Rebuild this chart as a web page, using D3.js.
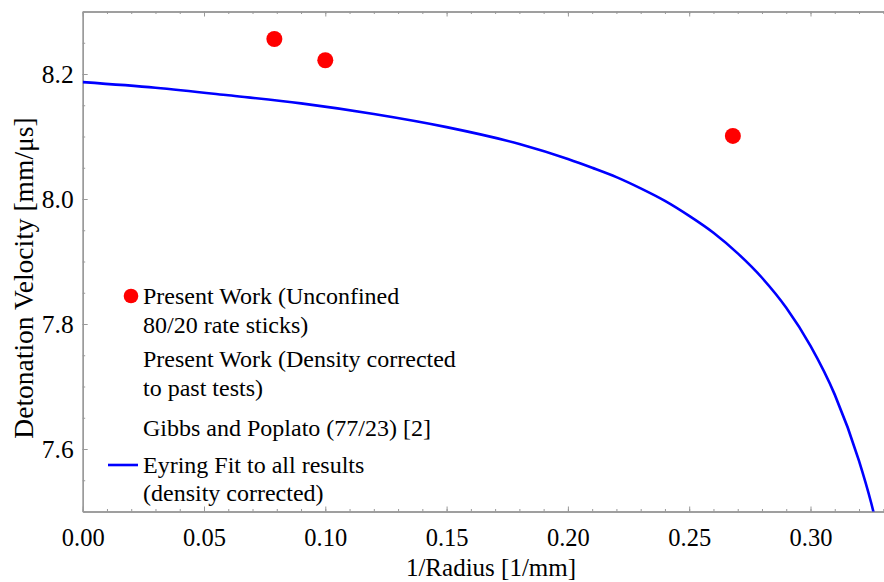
<!DOCTYPE html>
<html><head><meta charset="utf-8">
<script src="https://cdn.jsdelivr.net/npm/d3@7/dist/d3.min.js"></script>
<style>body{margin:0;background:#fff}svg{display:block}svg text{font-family:"Times New Roman",Times,"Liberation Serif",Tinos,"Noto Serif","DejaVu Serif",serif !important;fill:#000}</style>
</head><body><svg id="c" width="884" height="582"></svg>
<script>
// Data
const pointX = [0.079, 0.100, 0.268];
const pointY = [8.256, 8.222, 8.101];
const fitX = [0, 0.03, 0.06, 0.09, 0.12, 0.15, 0.18, 0.20, 0.21, 0.22, 0.23, 0.24, 0.25, 0.26, 0.27, 0.28, 0.29, 0.30, 0.31, 0.32, 0.325, 0.33];
const fitY = [8.187, 8.178, 8.166, 8.153, 8.136, 8.115, 8.088, 8.064, 8.050, 8.035, 8.017, 7.997, 7.973, 7.946, 7.913, 7.874, 7.826, 7.765, 7.687, 7.581, 7.514, 7.432];
const xTicks = [0.00, 0.05, 0.10, 0.15, 0.20, 0.25, 0.30];
const yTicks = [7.6, 7.8, 8.0, 8.2];
const legendLabels = [
  ["Present Work (Unconfined", "80/20 rate sticks)"],
  ["Present Work (Density corrected", "to past tests)"],
  ["Gibbs and Poplato (77/23) [2]"],
  ["Eyring Fit to all results", "(density corrected)"]
];
const xTitle = "1/Radius [1/mm]";
const yTitle = "Detonation Velocity [mm/\u03bcs]";

const svg = d3.select("#c");
const L = 82.7, T = 11.5, B = 511.5;
const x = d3.scaleLinear().domain([0, 0.335]).range([L, L + 0.335 * 2426]);
const y = d3.scaleLinear().domain([7.5, 8.3]).range([B, T]);
const R = x.range()[1];
const frameColor = "#999";
const serif = "Times New Roman, Times, Liberation Serif, serif";

svg.append("defs").append("clipPath").attr("id", "clip")
  .append("rect").attr("x", L).attr("y", T).attr("width", R - L).attr("height", B - T);

const xMinor = d3.range(0, 0.3351, 0.01);
const yMinor = d3.range(7.5, 8.3001, 0.05);
function styleAxis(g, size) {
  g.attr("font-family", serif);
  g.select(".domain").attr("stroke", frameColor).attr("stroke-width", 1.3);
  g.selectAll(".tick line").attr("stroke", frameColor);
  g.selectAll(".tick text").attr("font-size", size || 25.5).attr("fill", "#000");
}
svg.append("g").attr("transform", `translate(0,${B})`)
  .call(d3.axisBottom(x).tickValues(xMinor).tickSizeInner(-2.5).tickSizeOuter(0).tickFormat(""))
  .call(styleAxis);
svg.append("g").attr("transform", `translate(0,${B})`)
  .call(d3.axisBottom(x).tickValues(xTicks).tickSizeInner(-5).tickSizeOuter(0).tickPadding(17).tickFormat(d3.format(".2f")))
  .call(styleAxis, 24.5);
svg.append("g").attr("transform", `translate(0,${T})`)
  .call(d3.axisTop(x).tickValues(xMinor).tickSizeInner(-2.5).tickSizeOuter(0).tickFormat(""))
  .call(styleAxis);
svg.append("g").attr("transform", `translate(0,${T})`)
  .call(d3.axisTop(x).tickValues(xTicks).tickSizeInner(-5).tickSizeOuter(0).tickFormat(""))
  .call(styleAxis);
svg.append("g").attr("transform", `translate(${L},0)`)
  .call(d3.axisLeft(y).tickValues(yMinor).tickSizeInner(-2.5).tickSizeOuter(0).tickFormat(""))
  .call(styleAxis);
svg.append("g").attr("transform", `translate(${L},0)`)
  .call(d3.axisLeft(y).tickValues(yTicks).tickSizeInner(-5).tickSizeOuter(0).tickPadding(9).tickFormat(d3.format(".1f")))
  .call(styleAxis, 25.5);

const fit = fitX.map((v, i) => [v, fitY[i]]);
svg.append("path").datum(fit).attr("clip-path", "url(#clip)")
  .attr("fill", "none").attr("stroke", "#0000ff").attr("stroke-width", 2.6)
  .attr("d", d3.line().x(d => x(d[0])).y(d => y(d[1])).curve(d3.curveMonotoneX));

svg.append("g").selectAll("circle").data(pointX.map((v, i) => [v, pointY[i]])).join("circle")
  .attr("cx", d => x(d[0])).attr("cy", d => y(d[1])).attr("r", 8).attr("fill", "#ff0000");

svg.append("text").attr("x", 491).attr("y", 576).attr("text-anchor", "middle").attr("font-size", 25).text(xTitle);
svg.append("text").attr("transform", "translate(33,278) rotate(-90)").attr("text-anchor", "middle").attr("font-size", 27.5).text(yTitle);

const lg = svg.append("g");
const baselines = [[304, 333], [367, 396], [435.5], [473, 501]];
legendLabels.forEach((lines, i) => {
  lines.forEach((t, j) => {
    lg.append("text").attr("x", 143).attr("y", baselines[i][j]).attr("font-size", 24).text(t);
  });
});
lg.append("circle").attr("cx", 131).attr("cy", 296).attr("r", 7.3).attr("fill", "#ff0000");
lg.append("line").attr("x1", 108).attr("x2", 138).attr("y1", 465).attr("y2", 465).attr("stroke", "#0000ff").attr("stroke-width", 2.6);
</script></body></html>
